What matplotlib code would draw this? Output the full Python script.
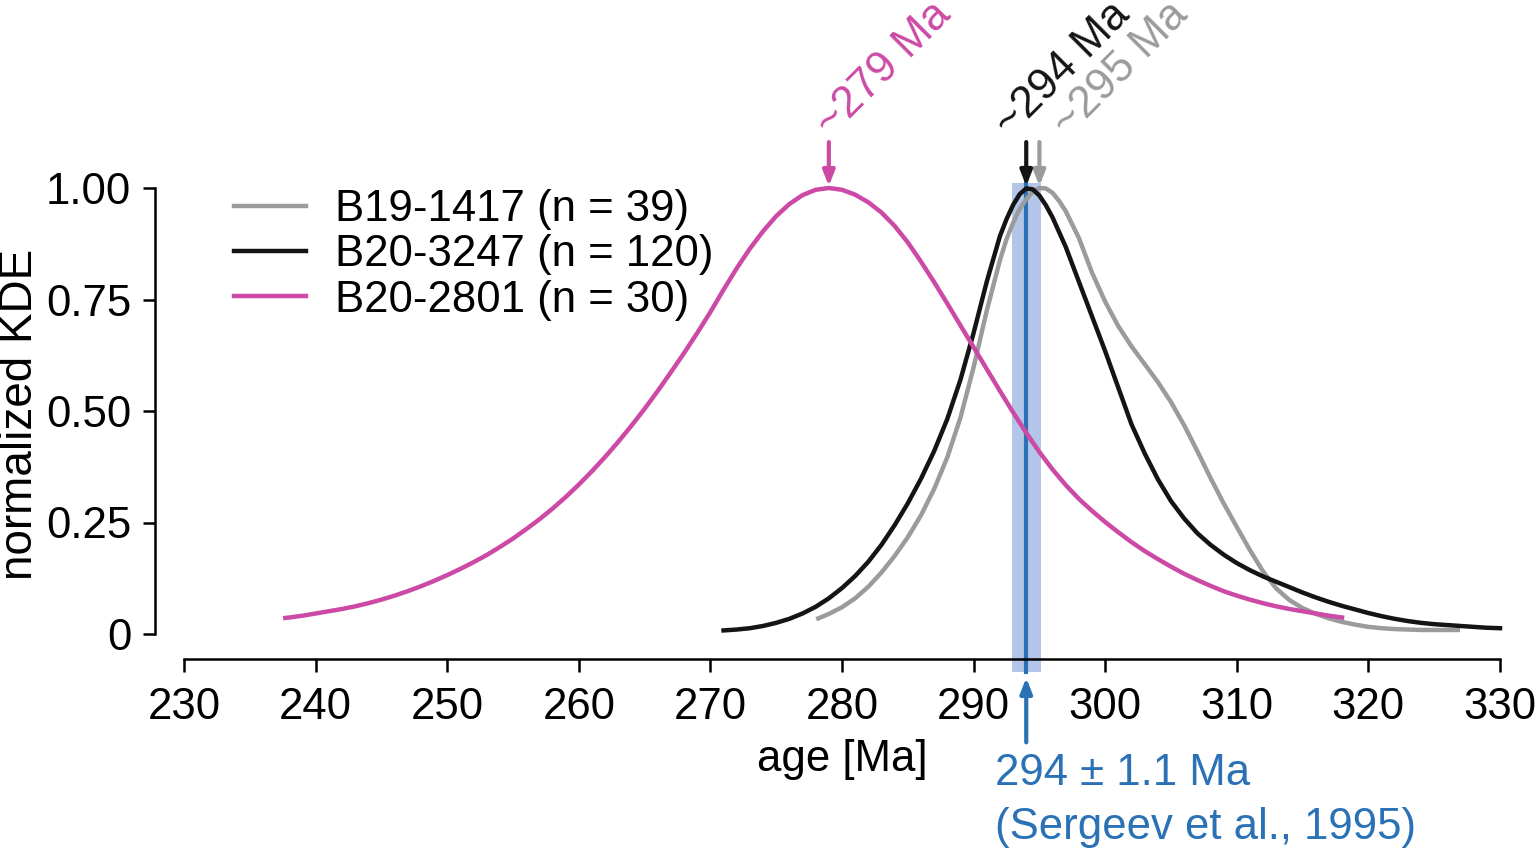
import matplotlib
matplotlib.use("Agg")
import matplotlib.pyplot as plt

plt.rcParams['font.family'] = ['Liberation Sans', 'DejaVu Sans']

# KDE curves (age in Ma, normalized density)
age_1417 = [278.2, 279, 280, 281, 282, 283, 284, 285, 286, 287, 288, 289, 290, 291, 292, 292.5,
            293, 293.5, 294, 294.5, 295, 295.5, 296, 296.5, 297, 298, 299, 300, 301, 302, 303,
            304, 305, 306, 307, 308, 309, 310, 311, 312, 313, 314, 315, 316, 317, 318, 319, 320,
            321, 322, 323, 324, 325, 326.8]
kde_1417 = [0.035, 0.045, 0.06, 0.08, 0.106, 0.138, 0.175, 0.217, 0.266, 0.325, 0.396, 0.485,
            0.598, 0.725, 0.838, 0.885, 0.922, 0.953, 0.975, 0.992, 1.0, 0.999, 0.989, 0.971,
            0.948, 0.888, 0.81, 0.745, 0.69, 0.645, 0.605, 0.565, 0.52, 0.468, 0.41, 0.35,
            0.293, 0.24, 0.188, 0.14, 0.102, 0.076, 0.058, 0.045, 0.035, 0.027, 0.021, 0.016,
            0.013, 0.011, 0.01, 0.009, 0.009, 0.009]

age_3247 = [271, 272, 273, 274, 275, 276, 277, 278, 279, 280, 281, 282, 283, 284, 285, 286, 287,
            288, 289, 290, 291, 292, 292.5, 293, 293.5, 294, 294.5, 295, 295.5, 296, 297, 298,
            299, 300, 301, 302, 303, 304, 305, 306, 307, 308, 309, 310, 311, 312, 313, 314, 315,
            316, 317, 318, 319, 320, 321, 322, 323, 324, 325, 326, 327, 328, 329, 330]
kde_3247 = [0.008, 0.01, 0.013, 0.018, 0.025, 0.034, 0.046, 0.061, 0.08, 0.103, 0.13, 0.162,
            0.2, 0.244, 0.293, 0.348, 0.41, 0.482, 0.57, 0.675, 0.79, 0.892, 0.93, 0.962, 0.986,
            0.999, 0.997, 0.983, 0.961, 0.934, 0.868, 0.79, 0.712, 0.634, 0.552, 0.47, 0.405,
            0.347, 0.298, 0.259, 0.226, 0.2, 0.178, 0.159, 0.143, 0.129, 0.117, 0.105, 0.093,
            0.082, 0.072, 0.063, 0.055, 0.047, 0.04, 0.034, 0.029, 0.025, 0.022, 0.02, 0.018,
            0.016, 0.014, 0.013]

age_2801 = [237.7, 238, 239, 240, 241, 242, 243, 244, 245, 246, 247, 248, 249, 250, 251, 252,
            253, 254, 255, 256, 257, 258, 259, 260, 261, 262, 263, 264, 265, 266, 267, 268, 269,
            270, 271, 272, 273, 274, 275, 276, 277, 278, 279, 280, 281, 282, 283, 284, 285, 286,
            287, 288, 289, 290, 291, 292, 293, 294, 295, 296, 297, 298, 299, 300, 301, 302, 303,
            304, 305, 306, 307, 308, 309, 310, 311, 312, 313, 314, 315, 316, 317, 318]
kde_2801 = [0.036, 0.037, 0.041, 0.046, 0.051, 0.056, 0.062, 0.069, 0.077, 0.086, 0.096, 0.107,
            0.119, 0.132, 0.146, 0.161, 0.177, 0.195, 0.214, 0.235, 0.257, 0.281, 0.307, 0.335,
            0.365, 0.397, 0.431, 0.467, 0.505, 0.545, 0.587, 0.63, 0.675, 0.722, 0.772, 0.82,
            0.864, 0.903, 0.937, 0.964, 0.984, 0.996, 1.0, 0.996, 0.985, 0.968, 0.945, 0.915,
            0.878, 0.835, 0.789, 0.741, 0.692, 0.643, 0.594, 0.545, 0.497, 0.451, 0.408, 0.369,
            0.334, 0.303, 0.276, 0.251, 0.228, 0.206, 0.186, 0.168, 0.151, 0.135, 0.121, 0.108,
            0.096, 0.086, 0.077, 0.069, 0.062, 0.056, 0.051, 0.046, 0.041, 0.037]

labels = ['B19-1417 (n = 39)', 'B20-3247 (n = 120)', 'B20-2801 (n = 30)']
colors = ['#9b9b9b', '#141414', '#cc4aa5']
peaks = [295, 294, 279]
peak_text = ['~295 Ma', '~294 Ma', '~279 Ma']
text_x = [297.2, 292.8, 279.2]

ref_age = 294
ref_err = 1.1
blue = '#2a72b5'

fs = 31.5

fig = plt.figure(figsize=(15.36, 8.49), dpi=100)
ax = fig.add_axes([184 / 1536, 1 - 634 / 849, 1316 / 1536, 446 / 849])
ax.set_xlim(230, 330)
ax.set_ylim(0, 1)

# reference age band + line
ax.axvspan(ref_age - ref_err, ref_age + ref_err, ymin=-0.085, ymax=1.011,
           color='#b3c5e8', lw=0, clip_on=False, zorder=1)
ax.plot([ref_age, ref_age], [-0.085, 1.011], color=blue, lw=3,
        clip_on=False, zorder=2)

ax.plot(age_1417, kde_1417, color=colors[0], lw=3.2, label=labels[0], zorder=3, clip_on=False)
ax.plot(age_3247, kde_3247, color=colors[1], lw=3.2, label=labels[1], zorder=3, clip_on=False)
ax.plot(age_2801, kde_2801, color=colors[2], lw=3.2, label=labels[2], zorder=3, clip_on=False)

# peak arrows and labels
for p, t, tx, c in zip(peaks, peak_text, text_x, colors):
    ax.annotate('', xy=(p, 1.004), xytext=(p, 1.103),
                arrowprops=dict(arrowstyle='-|>,head_length=0.9,head_width=0.35',
                                color=c, lw=3, shrinkA=0, shrinkB=0),
                annotation_clip=False)
    ax.text(tx, 1.112, t, color=c, fontsize=fs, rotation=45,
            rotation_mode='anchor', ha='left', va='baseline', clip_on=False)

# reference arrow + text
ax.annotate('', xy=(ref_age, -0.098), xytext=(ref_age, -0.243),
            arrowprops=dict(arrowstyle='-|>,head_length=0.9,head_width=0.35',
                            color=blue, lw=3, shrinkA=0, shrinkB=0),
            annotation_clip=False)
ax.text(291.6, -0.313, '294 \u00b1 1.1 Ma', color=blue, fontsize=fs,
        ha='left', va='center', clip_on=False)
ax.text(291.6, -0.433, '(Sergeev et al., 1995)', color=blue, fontsize=fs,
        ha='left', va='center', clip_on=False)

# axes styling (R-like detached axes)
for s in ['top', 'right']:
    ax.spines[s].set_visible(False)
ax.spines['left'].set_position(('outward', 21))
ax.spines['bottom'].set_position(('outward', 18))
ax.spines['left'].set_bounds(0, 1)
ax.spines['left'].set_linewidth(1.8)
ax.spines['bottom'].set_linewidth(1.8)
ax.set_xticks(range(230, 331, 10))
ax.set_yticks([0, 0.25, 0.5, 0.75, 1.0])
ax.set_yticklabels(['0', '0.25', '0.50', '0.75', '1.00'])
ax.tick_params(axis='both', labelsize=fs, width=1.8, length=9, direction='out')
ax.tick_params(axis='x', pad=11)
ax.tick_params(axis='y', pad=8)
ax.set_xlabel('age [Ma]', fontsize=fs, labelpad=8)
fig.text(20 / 1536, 1 - 414 / 849, 'normalized KDE', fontsize=33,
         rotation=90, ha='center', va='center')

ax.legend(loc='upper left', bbox_to_anchor=(234 / 1536, 1 - 189 / 849),
          bbox_transform=fig.transFigure, frameon=False, fontsize=fs,
          handlelength=1.65, handletextpad=0.65, labelspacing=0.1,
          borderpad=0, borderaxespad=0)

fig.savefig('out.png', dpi=100)
